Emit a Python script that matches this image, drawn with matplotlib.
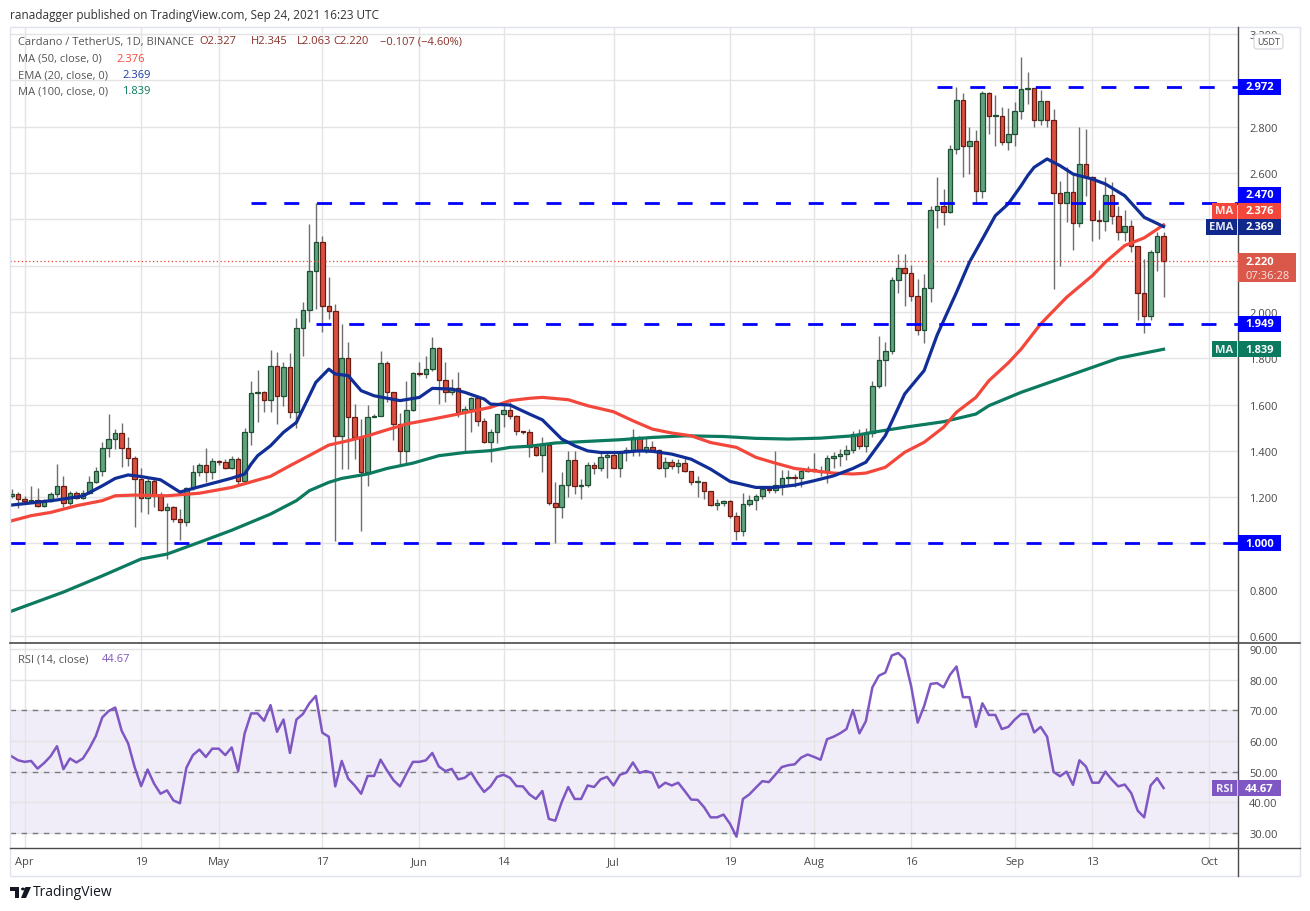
import numpy as np
import pandas as pd
import matplotlib
matplotlib.use('Agg')
import matplotlib.pyplot as plt
from matplotlib.patches import Rectangle, FancyBboxPatch, Polygon, Circle
from matplotlib.lines import Line2D

plt.rcParams['font.family'] = ['Open Sans', 'DejaVu Sans']

W, H = 1310, 912

# ---- data (ADA/USDT daily, Binance) ----
start_date = pd.Timestamp('2021-03-30')
first_open = 1.204

closes = [
    1.213, 1.191, 1.182, 1.189, 1.162, 1.182, 1.212, 1.250, 1.175, 1.217,
    1.196, 1.217, 1.264, 1.312, 1.411, 1.450, 1.476, 1.411, 1.368, 1.278,
    1.195, 1.268, 1.204, 1.144, 1.156, 1.106, 1.091, 1.238, 1.307, 1.339,
    1.307, 1.355, 1.350, 1.325, 1.365, 1.268, 1.480, 1.650, 1.653, 1.621,
    1.765, 1.638, 1.761, 1.569, 1.929, 2.007, 2.175, 2.301, 2.027, 2.003,
    1.465, 1.799, 1.547, 1.462, 1.310, 1.547, 1.552, 1.778, 1.653, 1.514,
    1.401, 1.576, 1.736, 1.732, 1.752, 1.843, 1.707, 1.653, 1.673, 1.566,
    1.579, 1.627, 1.530, 1.437, 1.480, 1.558, 1.576, 1.552, 1.484, 1.481,
    1.415, 1.383, 1.425, 1.173, 1.156, 1.252, 1.360, 1.249, 1.252, 1.338,
    1.324, 1.372, 1.383, 1.328, 1.393, 1.403, 1.462, 1.400, 1.415, 1.403,
    1.324, 1.350, 1.333, 1.346, 1.311, 1.264, 1.264, 1.228, 1.167, 1.173,
    1.182, 1.120, 1.052, 1.169, 1.186, 1.207, 1.235, 1.230, 1.254, 1.281,
    1.287, 1.284, 1.311, 1.321, 1.313, 1.307, 1.369, 1.377, 1.385, 1.403,
    1.471, 1.422, 1.476, 1.679, 1.791, 1.830, 2.137, 2.189, 2.167, 2.071,
    1.924, 2.102, 2.439, 2.456, 2.433, 2.703, 2.916, 2.719, 2.737, 2.524,
    2.946, 2.845, 2.848, 2.733, 2.768, 2.868, 2.963, 2.966, 2.828, 2.910,
    2.831, 2.513, 2.469, 2.517, 2.383, 2.638, 2.583, 2.399, 2.395, 2.505,
    2.416, 2.347, 2.370, 2.284, 2.081, 1.984, 2.258, 2.327, 2.220,
]
highs = [
    1.235, 1.221, 1.206, 1.247, 1.239, 1.192, 1.224, 1.343, 1.290, 1.228,
    1.228, 1.231, 1.290, 1.329, 1.437, 1.559, 1.494, 1.520, 1.458, 1.379,
    1.325, 1.281, 1.286, 1.221, 1.175, 1.163, 1.149, 1.242, 1.339, 1.347,
    1.412, 1.369, 1.362, 1.365, 1.379, 1.372, 1.497, 1.702, 1.749, 1.660,
    1.835, 1.825, 1.782, 1.823, 1.974, 2.044, 2.380, 2.471, 2.329, 2.149,
    2.034, 1.948, 1.869, 1.602, 1.537, 1.598, 1.558, 1.831, 1.788, 1.655,
    1.563, 1.703, 1.742, 1.782, 1.811, 1.893, 1.848, 1.784, 1.710, 1.742,
    1.595, 1.631, 1.635, 1.540, 1.494, 1.560, 1.598, 1.612, 1.555, 1.487,
    1.494, 1.422, 1.458, 1.436, 1.264, 1.310, 1.400, 1.400, 1.278, 1.350,
    1.350, 1.393, 1.393, 1.390, 1.396, 1.415, 1.494, 1.465, 1.458, 1.441,
    1.408, 1.372, 1.364, 1.364, 1.374, 1.314, 1.290, 1.267, 1.228, 1.194,
    1.189, 1.189, 1.137, 1.220, 1.209, 1.213, 1.242, 1.245, 1.400, 1.318,
    1.318, 1.300, 1.321, 1.333, 1.390, 1.333, 1.382, 1.396, 1.408, 1.425,
    1.487, 1.495, 1.498, 1.703, 1.898, 1.869, 2.151, 2.251, 2.251, 2.203,
    2.143, 2.164, 2.457, 2.585, 2.531, 2.721, 2.971, 2.946, 2.798, 2.788,
    2.953, 2.949, 2.937, 2.884, 2.880, 2.906, 3.100, 3.035, 2.966, 2.959,
    2.913, 2.877, 2.567, 2.625, 2.596, 2.798, 2.791, 2.589, 2.441, 2.585,
    2.560, 2.459, 2.442, 2.397, 2.287, 2.229, 2.269, 2.344, 2.345,
]
lows = [
    1.195, 1.152, 1.170, 1.180, 1.159, 1.156, 1.178, 1.199, 1.156, 1.166,
    1.192, 1.192, 1.213, 1.261, 1.290, 1.372, 1.408, 1.329, 1.333, 1.069,
    1.134, 1.126, 1.156, 1.141, 0.933, 1.091, 1.016, 1.077, 1.232, 1.290,
    1.264, 1.278, 1.340, 1.322, 1.322, 1.252, 1.256, 1.425, 1.526, 1.569,
    1.569, 1.514, 1.595, 1.543, 1.497, 1.811, 1.955, 2.013, 1.915, 1.969,
    1.009, 1.321, 1.321, 1.365, 1.052, 1.247, 1.546, 1.552, 1.609, 1.448,
    1.336, 1.343, 1.573, 1.725, 1.716, 1.746, 1.602, 1.609, 1.641, 1.547,
    1.393, 1.480, 1.506, 1.432, 1.353, 1.434, 1.504, 1.537, 1.468, 1.474,
    1.372, 1.379, 1.307, 1.166, 1.000, 1.108, 1.199, 1.213, 1.194, 1.242,
    1.302, 1.314, 1.281, 1.324, 1.285, 1.357, 1.376, 1.379, 1.390, 1.400,
    1.321, 1.285, 1.321, 1.304, 1.307, 1.252, 1.199, 1.194, 1.163, 1.146,
    1.163, 1.112, 1.014, 1.033, 1.163, 1.146, 1.194, 1.220, 1.220, 1.210,
    1.252, 1.246, 1.246, 1.307, 1.310, 1.290, 1.261, 1.324, 1.336, 1.362,
    1.390, 1.408, 1.394, 1.459, 1.670, 1.679, 1.819, 2.082, 2.027, 2.049,
    1.901, 1.866, 2.045, 2.363, 2.376, 2.428, 2.683, 2.585, 2.596, 2.467,
    2.491, 2.769, 2.719, 2.721, 2.701, 2.719, 2.834, 2.899, 2.798, 2.808,
    2.798, 2.099, 2.200, 2.387, 2.269, 2.366, 2.500, 2.308, 2.315, 2.351,
    2.380, 2.313, 2.308, 2.258, 1.967, 1.908, 1.967, 2.179, 2.063,
]
rsi_values = [
    55.0, 53.7, 53.2, 53.5, 51.0, 52.8, 55.0, 58.3, 50.8, 54.3,
    53.0, 54.3, 57.6, 61.6, 67.7, 69.8, 70.9, 63.3, 59.2, 51.5,
    45.3, 50.7, 46.1, 42.8, 43.9, 40.6, 39.7, 51.3, 55.4, 57.2,
    54.8, 57.5, 57.5, 55.4, 57.9, 50.2, 62.5, 69.0, 69.0, 66.6,
    71.7, 63.0, 67.0, 56.1, 67.0, 68.8, 72.3, 74.7, 62.7, 61.4,
    45.2, 53.5, 47.7, 45.5, 42.8, 48.6, 48.6, 53.9, 50.4, 47.2,
    45.2, 49.3, 53.2, 53.2, 53.7, 56.1, 51.7, 50.2, 50.9, 47.5,
    48.0, 49.7, 46.3, 43.4, 45.2, 48.3, 49.0, 48.0, 45.3, 45.2,
    42.6, 41.1, 43.7, 34.6, 34.0, 40.1, 45.0, 41.1, 41.1, 45.5,
    45.0, 47.5, 48.3, 45.5, 49.0, 49.7, 53.0, 49.6, 50.2, 49.6,
    44.8, 46.4, 45.5, 46.4, 43.7, 40.9, 40.8, 38.4, 35.1, 35.1,
    36.0, 33.0, 28.8, 41.1, 42.6, 44.8, 46.9, 46.6, 49.0, 51.5,
    52.1, 52.4, 54.6, 55.6, 54.8, 53.9, 60.6, 61.4, 62.5, 63.9,
    70.1, 62.5, 66.5, 77.5, 81.3, 82.3, 87.9, 88.7, 86.7, 77.8,
    66.0, 71.4, 78.6, 78.9, 77.5, 81.6, 84.3, 74.3, 74.3, 64.6,
    72.3, 68.5, 68.5, 63.9, 64.6, 67.0, 68.8, 68.8, 62.8, 64.6,
    61.4, 49.9, 48.5, 50.0, 45.7, 53.7, 51.7, 46.4, 46.4, 50.0,
    47.4, 45.2, 45.8, 43.0, 37.3, 35.1, 45.5, 47.9, 44.67,
]

# moving averages sampled along the drawn lines (day number, value)
ema20_days = [0, 3, 7, 11, 14, 16, 18, 20, 23, 26, 29, 32, 34, 36, 37, 38, 40, 42,
              44, 46, 47, 49, 50, 52, 54, 56, 60, 63, 65, 68, 70, 73, 74, 77, 80,
              82, 85, 87, 89, 91, 94, 97, 99, 102, 105, 108, 111, 115, 118, 121,
              124, 127, 130, 132, 135, 138, 141, 143, 146, 148, 150, 152, 154,
              156, 157, 158, 160, 162, 164, 167, 169, 172, 175, 178]
ema20_values = [1.166, 1.175, 1.188, 1.205, 1.249, 1.281, 1.296, 1.289, 1.275, 1.222,
                1.245, 1.267, 1.282, 1.300, 1.343, 1.379, 1.422, 1.480, 1.523, 1.638,
                1.696, 1.753, 1.732, 1.725, 1.660, 1.638, 1.617, 1.631, 1.670, 1.667,
                1.653, 1.624, 1.602, 1.598, 1.559, 1.534, 1.451, 1.422, 1.400, 1.393,
                1.393, 1.400, 1.398, 1.386, 1.364, 1.321, 1.268, 1.242, 1.242, 1.252,
                1.271, 1.292, 1.324, 1.351, 1.466, 1.646, 1.747, 1.900, 2.085, 2.215,
                2.315, 2.416, 2.467, 2.546, 2.589, 2.625, 2.661, 2.632, 2.596, 2.574,
                2.553, 2.502, 2.409, 2.369]
ma50_days = [0, 3, 6, 10, 14, 16, 19, 24, 29, 34, 40, 43, 46, 49, 52, 55, 58, 61,
             65, 69, 74, 77, 80, 82, 86, 89, 93, 96, 99, 102, 105, 108, 112, 115,
             118, 121, 124, 127, 130, 132, 135, 138, 141, 144, 146, 149, 151, 154,
             156, 159, 163, 167, 169, 172, 175, 178]
ma50_values = [1.098, 1.120, 1.134, 1.163, 1.185, 1.206, 1.209, 1.206, 1.217, 1.242,
               1.290, 1.336, 1.380, 1.425, 1.444, 1.465, 1.491, 1.516, 1.537, 1.559,
               1.588, 1.617, 1.627, 1.631, 1.621, 1.595, 1.569, 1.530, 1.494, 1.477,
               1.465, 1.436, 1.415, 1.372, 1.347, 1.324, 1.314, 1.304, 1.300, 1.304,
               1.329, 1.394, 1.437, 1.502, 1.567, 1.631, 1.703, 1.780, 1.840, 1.948,
               2.063, 2.157, 2.215, 2.287, 2.320, 2.376]
ma100_days = [0, 8, 14, 20, 24, 29, 34, 40, 44, 46, 49, 51, 55, 58, 62, 66, 70, 74,
              77, 80, 84, 89, 94, 99, 104, 110, 115, 120, 125, 130, 133, 138, 144,
              149, 151, 156, 171, 178]
ma100_values = [0.708, 0.790, 0.860, 0.933, 0.954, 1.005, 1.057, 1.127, 1.185, 1.228,
                1.264, 1.281, 1.300, 1.324, 1.347, 1.379, 1.393, 1.401, 1.415, 1.420,
                1.434, 1.441, 1.448, 1.458, 1.465, 1.462, 1.454, 1.451, 1.455, 1.465,
                1.480, 1.502, 1.526, 1.559, 1.595, 1.653, 1.800, 1.839]

# horizontal levels drawn by the author
level_prices = [2.972, 2.470, 1.949, 1.000]
level_from = ['2021-08-20', '2021-05-06', '2021-05-16', '2021-03-29']

price_ticks = [0.6, 0.8, 1.0, 1.2, 1.4, 1.6, 1.8, 2.0, 2.2, 2.4, 2.6, 2.8, 3.0, 3.2]
hidden_ticks = [1.0, 2.2, 2.4, 3.0]  # covered by the price tags on the scale
rsi_ticks = [30, 40, 50, 60, 70, 80, 90]
date_ticks = ['2021-04-01', '2021-04-19', '2021-05-01', '2021-05-17', '2021-06-01',
              '2021-06-14', '2021-07-01', '2021-07-19', '2021-08-01', '2021-08-16',
              '2021-09-01', '2021-09-13', '2021-10-01']
date_labels = ['Apr', '19', 'May', '17', 'Jun', '14', 'Jul', '19', 'Aug', '16',
               'Sep', '13', 'Oct']


def fx(x):
    return x / W


def fy(y):
    return 1 - y / H


def ftext(x, y, s, **kw):
    return fig.text(fx(x), fy(y), s, va='center', **kw)


def fline(x0, y0, x1, y1, **kw):
    fig.add_artist(Line2D([fx(x0), fx(x1)], [fy(y0), fy(y1)],
                          transform=fig.transFigure, **kw))


def frect(x0, y0, x1, y1, **kw):
    r = Rectangle((fx(x0), fy(y1)), (x1 - x0) / W, (y1 - y0) / H,
                  transform=fig.transFigure, **kw)
    fig.add_artist(r)


def to_px(axis, v):
    return H - axis.transData.transform((0, v))[1]


def day_num(d):
    return (pd.Timestamp(d) - start_date).days


fig = plt.figure(figsize=(W / 100, H / 100), dpi=100)
fig.patch.set_facecolor('white')

ax = fig.add_axes([fx(10), fy(644), (1238 - 10) / W, (644 - 28) / H])
rax = fig.add_axes([fx(10), fy(849), (1238 - 10) / W, (849 - 644) / H], sharex=ax)

c = np.array(closes)
h = np.array(highs)
l = np.array(lows)
o = np.r_[first_open, c[:-1]]
x = np.arange(len(c))
up = c >= o

xmin, xmax = -0.26, 189.5
ax.set_xlim(xmin, xmax)
ax.set_ylim(0.570, 3.231)
rax.set_ylim(25.1, 91.97)

date_pos = [day_num(d) for d in date_ticks]
grid_col = '#e4e4e4'
for a in (ax, rax):
    a.set_xticks(date_pos)
    a.grid(True, color=grid_col, lw=1)
    a.set_axisbelow(True)
    for s in a.spines.values():
        s.set_visible(False)
    a.yaxis.tick_right()
    a.tick_params(axis='y', length=0, pad=8, labelsize=8, labelcolor='#4a4a4a')

ax.tick_params(axis='x', length=0, labelbottom=False)
ax.set_yticks(price_ticks)
ax.set_yticklabels(['' if v in hidden_ticks else f'{v:.3f}' for v in price_ticks])
rax.set_yticks(rsi_ticks)
rax.set_yticklabels([f'{v:.2f}' for v in rsi_ticks])
rax.set_xticklabels(date_labels)
rax.tick_params(axis='x', length=0, pad=6, labelsize=8, labelcolor='#4a4a4a')

# candles
ax.vlines(x, l, h, color='#6e6e6e', lw=1, zorder=2)
ax.bar(x, np.maximum(np.abs(c - o), 0.004), bottom=np.minimum(o, c), width=0.7,
       color=np.where(up, '#63a27e', '#d8503f'),
       edgecolor=np.where(up, '#1f4f33', '#6a1b14'), linewidth=0.9, zorder=3)

# moving averages
ax.plot(ma100_days, ma100_values, color='#0b7a5f', lw=2.3, zorder=4)
ax.plot(ma50_days, ma50_values, color='#f4473c', lw=2.3, zorder=4)
ax.plot(ema20_days, ema20_values, color='#102e96', lw=2.3, zorder=4)

# drawn levels
for p, d in zip(level_prices, level_from):
    ax.plot([max(day_num(d), xmin), xmax], [p, p], color='#0000ff', lw=2,
            ls=(0, (5.4, 6.4)), dash_capstyle='butt', zorder=5)

ax.axhline(c[-1], color='#ef4438', lw=0.9, ls=(0, (1, 2)), zorder=5)

# RSI
rax.axhspan(30, 70, color='#7e57c2', alpha=0.1, lw=0, zorder=0.2)
for v in (30, 50, 70):
    rax.axhline(v, color='#787b86', lw=1, ls=(0, (4, 4)), zorder=1)
rax.plot(x, rsi_values, color='#7e57c2', lw=1.8, zorder=3)

# frame and separators
frect(10, 28, 1300, 877, fc='none', ec='#e0e3eb', lw=1, zorder=4)
fline(1238, 28, 1238, 877, color='#4a4a4a', lw=1, zorder=4)
fline(10, 644, 1300, 644, color='#4a4a4a', lw=1.2, zorder=4)
fline(10, 849, 1300, 849, color='#4a4a4a', lw=1, zorder=4)


def price_box(y, text, fc, tag=None, tag_x0=1212, x1=1281, hh=16):
    frect(1238, y - hh / 2, x1, y + hh / 2, fc=fc, ec='none', zorder=5)
    ftext((1238 + x1) / 2, y, text, ha='center', color='white', size=8,
          weight='bold', zorder=6)
    if tag:
        frect(tag_x0, y - hh / 2, 1237, y + hh / 2, fc=fc, ec='none', zorder=5)
        ftext((tag_x0 + 1237) / 2, y, tag, ha='center', color='white', size=8,
              weight='bold', alpha=0.9, zorder=6)


blue = '#0000ff'
price_box(to_px(ax, level_prices[0]), f'{level_prices[0]:.3f}', blue)
ema_y = to_px(ax, ema20_values[-1])
price_box(ema_y, f'{ema20_values[-1]:.3f}', '#10288c', tag='EMA', tag_x0=1206)
price_box(ema_y - 16, f'{ma50_values[-1]:.3f}', '#f4473c', tag='MA')
price_box(ema_y - 32, f'{level_prices[1]:.3f}', blue)
price_box(to_px(ax, level_prices[2]), f'{level_prices[2]:.3f}', blue)
price_box(to_px(ax, ma100_values[-1]), f'{ma100_values[-1]:.3f}', '#0b7a5f', tag='MA')
price_box(to_px(ax, level_prices[3]), f'{level_prices[3]:.3f}', blue)
price_box(to_px(rax, rsi_values[-1]), f'{rsi_values[-1]:.2f}', '#7e57c2', tag='RSI')

cy = to_px(ax, c[-1])
frect(1238, cy - 8, 1296, cy + 21, fc='#d9584a', ec='none', zorder=5)
ftext(1246, cy, f'{c[-1]:.3f}', color='white', size=8, weight='bold', zorder=6)
ftext(1246, cy + 14, '07:36:28', color='white', size=8, alpha=0.85, zorder=6)

usdt = FancyBboxPatch((fx(1254), fy(50)), 29 / W, 15 / H,
                      boxstyle='round,pad=0,rounding_size=0.003',
                      transform=fig.transFigure, fc='white', ec='#d0d3db', lw=0.8,
                      zorder=5)
fig.add_artist(usdt)
ftext(1268.5, 42.5, 'USDT', ha='center', color='#4a4a4a', size=6.5, zorder=6)

# texts
ftext(10, 15, 'ranadagger published on TradingView.com, Sep 24, 2021 16:23 UTC',
      color='#333333', size=8.5)
grey = '#555555'
ftext(18, 42, 'Cardano / TetherUS, 1D, BINANCE', color=grey, size=8)
val_col = '#8a2f27'
ohlc = [('O2.327', 199), ('H2.345', 251), ('L2.063', 297), ('C2.220', 333),
        ('\u22120.107 (\u22124.60%)', 380)]
for s, xx in ohlc:
    ftext(xx, 42, s, color=val_col, size=8)
ftext(18, 59, 'MA (50, close, 0)', color=grey, size=8)
ftext(116, 59, f'{ma50_values[-1]:.3f}', color='#f4473c', size=8)
ftext(18, 76, 'EMA (20, close, 0)', color=grey, size=8)
ftext(122, 76, f'{ema20_values[-1]:.3f}', color='#1c3aa6', size=8)
ftext(18, 92, 'MA (100, close, 0)', color=grey, size=8)
ftext(122, 92, f'{ma100_values[-1]:.3f}', color='#0b7a5f', size=8)
ftext(18, 660, 'RSI (14, close)', color=grey, size=8)
ftext(102, 660, f'{rsi_values[-1]:.2f}', color='#7e57c2', size=8)

# TradingView logo
logo = '#131722'
frect(10, 888, 19, 892, fc=logo, ec='none')
frect(14.5, 888, 19, 899, fc=logo, ec='none')
fig.add_artist(Circle((fx(23), fy(890)), 2 / W, transform=fig.transFigure,
                      fc=logo, ec='none'))
fig.add_artist(Polygon([(fx(25.5), fy(888)), (fx(31), fy(888)), (fx(26), fy(899)),
                        (fx(21), fy(899))], closed=True, transform=fig.transFigure,
                       fc=logo, ec='none'))
ftext(33, 893, 'TradingView', color=logo, size=10)

fig.savefig('out.png', dpi=100)
